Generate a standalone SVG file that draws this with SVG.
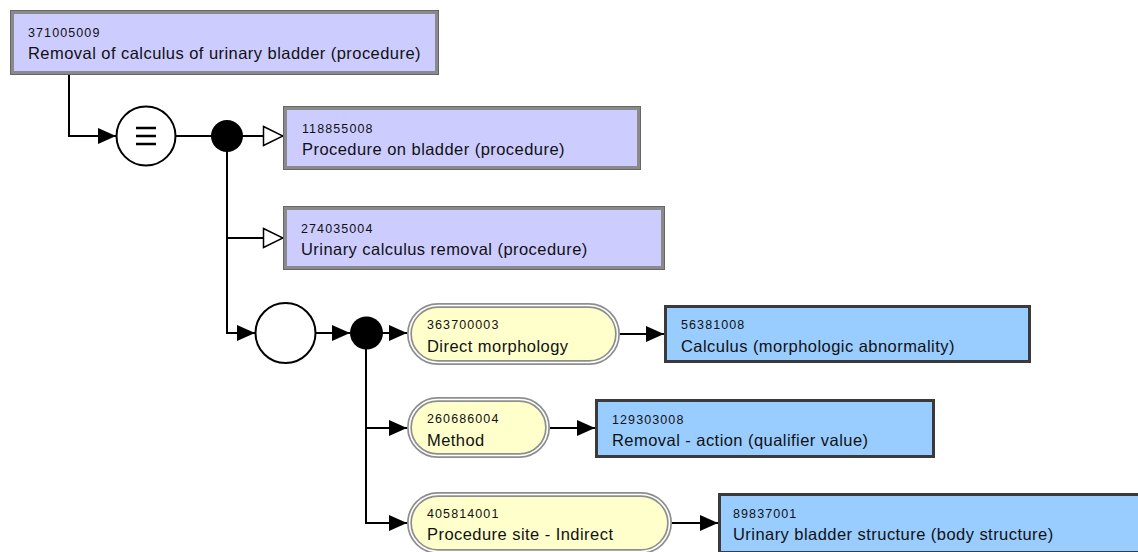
<svg xmlns="http://www.w3.org/2000/svg" width="1138" height="552" viewBox="0 0 1138 552">
  <defs>
    <style>
      .code { font-family: "Liberation Sans", Arial, sans-serif; font-size: 12.5px; letter-spacing: 1.1px; fill: #111; }
      .label { font-family: "Liberation Sans", Arial, sans-serif; font-size: 16.5px; letter-spacing: 0.45px; fill: #111; }
      .concept { fill: #ccccff; stroke: #8a8a8a; stroke-width: 4; }
      .concept-edge { fill: none; stroke: #666; stroke-width: 1; }
      .attr { fill: #ffffcc; stroke: #8e8e8e; stroke-width: 5; }
      .attr-gap { fill: none; stroke: #ffffff; stroke-width: 1.6; }
      .value { fill: #99ccff; stroke: #3a3a3a; stroke-width: 3; }
      .wire { fill: none; stroke: #000; stroke-width: 2; }
      .op { fill: #fff; stroke: #000; stroke-width: 2; }
      .conj { fill: #000; }
    </style>
    <marker id="arrow" viewBox="0 0 18 16" refX="18" refY="8" markerWidth="18" markerHeight="16" markerUnits="userSpaceOnUse" orient="auto">
      <path d="M0,0 L18,8 L0,16 Z" fill="#000"/>
    </marker>
    <marker id="isa" viewBox="0 0 22 22" refX="21" refY="11" markerWidth="22" markerHeight="22" markerUnits="userSpaceOnUse" orient="auto">
      <path d="M1.5,1.5 L21,11 L1.5,20.5 Z" fill="#fff" stroke="#000" stroke-width="1.5"/>
    </marker>
  </defs>

  <rect width="1138" height="552" fill="#ffffff"/>

  <!-- connectors -->
  <g id="connectors">
    <path class="wire" d="M69,74 V136 H116" marker-end="url(#arrow)"/>
    <path class="wire" d="M176,136 H227"/>
    <path class="wire" d="M227,136 H283" marker-end="url(#isa)"/>
    <path class="wire" d="M227,238 H283" marker-end="url(#isa)"/>
    <path class="wire" d="M227,136 V333 H255" marker-end="url(#arrow)"/>
    <path class="wire" d="M315,333 H350" marker-end="url(#arrow)"/>
    <path class="wire" d="M366,333 H407" marker-end="url(#arrow)"/>
    <path class="wire" d="M366,428 H407" marker-end="url(#arrow)"/>
    <path class="wire" d="M366,333 V523 H407" marker-end="url(#arrow)"/>
    <path class="wire" d="M620,334 H664" marker-end="url(#arrow)"/>
    <path class="wire" d="M550,428 H595" marker-end="url(#arrow)"/>
    <path class="wire" d="M672,523 H718" marker-end="url(#arrow)"/>
  </g>

  <!-- defined concept -->
  <g id="c371005009">
    <rect class="concept" x="12" y="12" width="425" height="61"/>
    <rect class="concept-edge" x="10.5" y="10.5" width="428" height="64"/>
    <text class="code" x="28" y="37">371005009</text>
    <text class="label" x="28" y="59">Removal of calculus of urinary bladder (procedure)</text>
  </g>

  <!-- equivalence operator -->
  <g id="equiv">
    <circle class="op" cx="146" cy="136" r="29.5"/>
    <path d="M136,128 H156 M136,136 H156 M136,144 H156" stroke="#000" stroke-width="2.6"/>
  </g>

  <g id="conj1">
    <circle class="conj" cx="227" cy="136" r="16"/>
  </g>

  <!-- parent concepts -->
  <g id="c118855008">
    <rect class="concept" x="285" y="108" width="354" height="60"/>
    <rect class="concept-edge" x="283.5" y="106.5" width="357" height="63"/>
    <text class="code" x="302" y="133">118855008</text>
    <text class="label" x="302" y="155">Procedure on bladder (procedure)</text>
  </g>

  <g id="c274035004">
    <rect class="concept" x="285" y="208" width="378" height="60"/>
    <rect class="concept-edge" x="283.5" y="206.5" width="381" height="63"/>
    <text class="code" x="301" y="233">274035004</text>
    <text class="label" x="301" y="255">Urinary calculus removal (procedure)</text>
  </g>

  <!-- relationship group -->
  <g id="group">
    <circle class="op" cx="285.5" cy="333" r="30"/>
  </g>

  <g id="conj2">
    <circle class="conj" cx="366.5" cy="333" r="16.5"/>
  </g>

  <!-- attributes -->
  <g id="a363700003">
    <rect class="attr" x="409.5" y="305.5" width="208" height="57" rx="28.5"/>
    <rect class="attr-gap" x="409.5" y="305.5" width="208" height="57" rx="28.5"/>
    <text class="code" x="427" y="329">363700003</text>
    <text class="label" x="427" y="352">Direct morphology</text>
  </g>

  <g id="a260686004">
    <rect class="attr" x="409.5" y="399.5" width="138" height="56" rx="28"/>
    <rect class="attr-gap" x="409.5" y="399.5" width="138" height="56" rx="28"/>
    <text class="code" x="427" y="423">260686004</text>
    <text class="label" x="427" y="446">Method</text>
  </g>

  <g id="a405814001">
    <rect class="attr" x="409.5" y="494.5" width="260" height="57" rx="28.5"/>
    <rect class="attr-gap" x="409.5" y="494.5" width="260" height="57" rx="28.5"/>
    <text class="code" x="427" y="518">405814001</text>
    <text class="label" x="427" y="540">Procedure site - Indirect</text>
  </g>

  <!-- attribute values -->
  <g id="c56381008">
    <rect class="value" x="665.5" y="306.5" width="364" height="55"/>
    <text class="code" x="681" y="329">56381008</text>
    <text class="label" x="681" y="352">Calculus (morphologic abnormality)</text>
  </g>

  <g id="c129303008">
    <rect class="value" x="596.5" y="400.5" width="337" height="56"/>
    <text class="code" x="612" y="424">129303008</text>
    <text class="label" x="612" y="446">Removal - action (qualifier value)</text>
  </g>

  <g id="c89837001">
    <rect class="value" x="719.5" y="494.5" width="430" height="58"/>
    <text class="code" x="733" y="518">89837001</text>
    <text class="label" x="733" y="540">Urinary bladder structure (body structure)</text>
  </g>
</svg>
